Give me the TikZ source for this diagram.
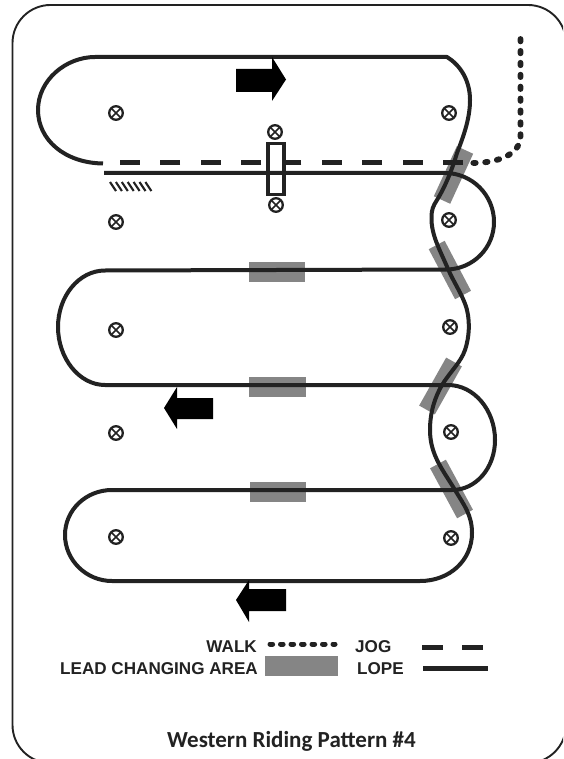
\documentclass[tikz,border=0pt]{standalone}
\usepackage{fontspec}
\setmainfont{Liberation Sans}
\newfontfamily\titlefont{Carlito}
\definecolor{ink}{HTML}{222222}
\definecolor{lead}{HTML}{858585}
\tikzset{
  frameline/.style={draw=ink,line width=1.9pt},
  lope/.style={draw=ink,line width=4pt},
  jog/.style={draw=ink,line width=5pt,dash pattern=on 20pt off 20.4pt},
  walk/.style={draw=ink,line width=5.8pt,line cap=round,dash pattern=on 2.4pt off 9.5pt},
  leadarea/.style={draw=lead,line width=18pt},
  leadflat/.style={draw=lead,line width=20pt},
  blockarrow/.style={fill=black,draw=none},
  marker/.style={draw=ink,line width=2.3pt},
  crossline/.style={draw=ink,line width=1.7pt},
  hatch/.style={draw=ink,line width=2.1pt},
  legendtext/.style={inner sep=0pt,font=\fontsize{17.1}{18}\selectfont\bfseries,text=ink},
  titletext/.style={inner sep=0pt,font=\titlefont\fontsize{23}{24}\selectfont\bfseries,text=ink}
}
\newcommand{\mk}[2]{%
  \draw[marker,fill=white] (#1,#2) circle[radius=6.8pt];
  \draw[crossline] (#1-4.8,#2-4.8) -- (#1+4.8,#2+4.8) (#1-4.8,#2+4.8) -- (#1+4.8,#2-4.8);
}
\begin{document}
\begin{tikzpicture}[x=1pt,y=-1pt]
\useasboundingbox (0,0) rectangle (563,759);
\fill[white] (0,0) rectangle (563,759);
% frame (runs off the right and bottom edges)
\begin{scope}
\clip (0,0) rectangle (563,759);
\draw[frameline,rounded corners=38pt] (12.5,5) rectangle (566,763);
\end{scope}
% lead changing areas
\draw[leadflat] (249,272) -- (305,272);
\draw[leadflat] (249,386.5) -- (306,386.5);
\draw[leadflat] (250,491.5) -- (306,491.5);
\draw[leadarea] (465,150) -- (442,200);
\draw[leadarea] (436.7,245) -- (463,295);
\draw[leadarea] (454,362) -- (427,410);
\draw[leadarea] (438,464) -- (465,514);
% walk
\draw[walk] (520.5,39) -- (520.5,136) .. controls (520.5,155) and (497,163) .. (472,163);
% jog
\draw[jog] (463,163) -- (103,163);
% centre box
\fill[white] (266,142) rectangle (286,196);
% lope
\draw[lope,line join=round] (104,173) -- (445,173)
  .. controls (472,173) and (494,195) .. (494,222)
  .. controls (494,248) and (473,269) .. (447,269.5)
  -- (105,270.5)
  .. controls (79,270.5) and (58,296) .. (58,327)
  .. controls (58,358) and (79,385) .. (105,385)
  -- (448,385)
  .. controls (474,385) and (495,410) .. (495,440)
  .. controls (495,468) and (476,490) .. (452,490)
  -- (112,490)
  .. controls (86,490) and (65,510) .. (65,535)
  .. controls (65,560) and (86,581) .. (112,581)
  -- (420,581)
  .. controls (450,581) and (472,560) .. (472,533)
  .. controls (472,515) and (464,505) .. (455,490)
  .. controls (443,470) and (430,455) .. (430,430)
  .. controls (430,412) and (435,397) .. (442,385)
  .. controls (450,372) and (461,362) .. (465,350)
  .. controls (470,335) and (469,322) .. (468,315)
  .. controls (466,300) and (455,285) .. (448,269)
  .. controls (440,250) and (431,235) .. (431.5,217)
  .. controls (431.5,210) and (433,206) .. (437,200)
  .. controls (445,187) and (452,170) .. (457,153)
  .. controls (464,135) and (470,118) .. (470,100)
  .. controls (470,80) and (460,65) .. (447,57)
  -- (95,57)
  .. controls (66,57) and (38,80) .. (38,110)
  .. controls (38,140) and (65,163) .. (103,163.5);
\draw[draw=ink,line width=3.6pt] (268,143.5) rectangle (284,194.5);
% hatch
\foreach \i in {0,...,6} {\draw[hatch] (110+5.9*\i,182) -- (116+5.9*\i,191);}
% markers
\mk{116}{113}\mk{449}{113}\mk{275}{132}\mk{276}{205}
\mk{116}{222}\mk{449}{220}\mk{116}{330}\mk{450}{327}
\mk{116}{433}\mk{451}{432}\mk{116}{537}\mk{451}{538}
% block arrows
\fill[blockarrow] (236,69) -- (272,69) -- (272,57) -- (286,79.5) -- (272,101) -- (272,92) -- (236,92) -- cycle;
\fill[blockarrow] (213,398) -- (177,398) -- (177,387) -- (164,408) -- (177,429) -- (177,419) -- (213,419) -- cycle;
\fill[blockarrow] (286,589) -- (249,589) -- (249,580) -- (236,600) -- (249,622) -- (249,611) -- (286,611) -- cycle;
% legend
\node[legendtext,anchor=base east] (walklabel) at (257,652) {WALK};
\node[legendtext,anchor=base east] (leadlabel) at (258,674) {LEAD CHANGING AREA};
\node[legendtext,anchor=base west] (joglabel) at (355,652) {JOG};
\node[legendtext,anchor=base west] (lopelabel) at (357,674) {LOPE};
\draw[draw=ink,line width=5pt,line cap=round,dash pattern=on 2.6pt off 7.9pt] (270,644) -- (335,644);
\fill[lead] (265,656) rectangle (338,676);
\draw[draw=ink,line width=5pt] (422,647) -- (443,647) (462,647) -- (483,647);
\draw[draw=ink,line width=5pt] (423,668) -- (488,668);
\node[titletext,anchor=base] (title) at (291.5,747) {Western Riding Pattern \#4};
\end{tikzpicture}
\end{document}
